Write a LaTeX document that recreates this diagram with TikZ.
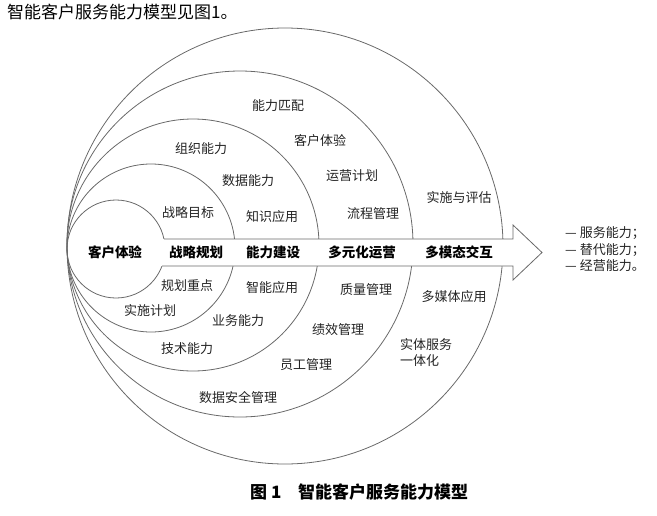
\documentclass[tikz,border=0pt]{standalone}
\usepackage{fontspec}
\setmainfont{Noto Sans CJK SC}
\newfontfamily\cjk{Noto Sans CJK SC}
\definecolor{ln}{RGB}{105,105,105}
\definecolor{txt}{RGB}{35,35,35}
\tikzset{
  ring/.style={draw=ln, line width=0.8pt},
  lbl/.style={font=\cjk\fontsize{13}{16}\selectfont, text=txt, inner sep=0pt},
  core/.style={font=\cjk\bfseries\fontsize{13.5}{16}\selectfont, text=black, inner sep=0pt},
  big/.style={font=\cjk\fontsize{17}{20}\selectfont, text=black, inner sep=0pt},
  figcap/.style={font=\cjk\bfseries\fontsize{17}{20}\selectfont, text=black, inner sep=0pt}
}
\begin{document}
\begin{tikzpicture}[x=1pt,y=-1pt]
\useasboundingbox (0,0) rectangle (657,515);
% header
\node[big,anchor=west] (head) at (7,12.5) {智能客户服务能力模型见图1。};
% rings
\draw[ring] (285,246) circle[radius=218pt];
\draw[ring] (240,244) circle[radius=173pt];
\draw[ring] (193,245) circle[radius=126pt];
\draw[ring] (151,248) circle[radius=84pt];
\draw[ring] (116,249) circle[radius=49pt];
% arrow band
\fill[white] (150,239) -- (513,239) -- (513,225) -- (542,252.5) -- (513,280) -- (513,266) -- (150,266) -- cycle;
\draw[ring, line join=miter] (164,239) -- (513,239) -- (513,225) -- (542,252.5) -- (513,280) -- (513,266) -- (162,266);
% core labels
\node[core] (k1) at (115,252.5) {客户体验};
\node[core] (k2) at (196,252.5) {战略规划};
\node[core] (k3) at (273,252.5) {能力建设};
\node[core] (k4) at (362,252.5) {多元化运营};
\node[core] (k5) at (459,252.5) {多模态交互};
% ring 2
\node[lbl] (a1) at (188,213) {战略目标};
\node[lbl] (a2) at (187,286) {规划重点};
\node[lbl] (a3) at (150,311) {实施计划};
% ring 3
\node[lbl] (b1) at (201,149) {组织能力};
\node[lbl] (b2) at (248,181) {数据能力};
\node[lbl] (b3) at (272,217) {知识应用};
\node[lbl] (b4) at (272,288) {智能应用};
\node[lbl] (b5) at (238,321) {业务能力};
\node[lbl] (b6) at (187,349) {技术能力};
% ring 4
\node[lbl] (c1) at (278,106) {能力匹配};
\node[lbl] (c2) at (320,141) {客户体验};
\node[lbl] (c3) at (352,176) {运营计划};
\node[lbl] (c4) at (373,214) {流程管理};
\node[lbl] (c5) at (366,290) {质量管理};
\node[lbl] (c6) at (338,330) {绩效管理};
\node[lbl] (c7) at (306,365) {员工管理};
\node[lbl] (c8) at (238,398) {数据安全管理};
% ring 5
\node[lbl] (d1) at (459,198) {实施与评估};
\node[lbl] (d2) at (454,297) {多媒体应用};
\node[lbl,anchor=west] (d3) at (400,345) {实体服务};
\node[lbl,anchor=west] (d4) at (400,361) {一体化};
% outcomes
\node[lbl,anchor=west] (o1) at (565,233.5) {—\hspace{3pt}服务能力；};
\node[lbl,anchor=west] (o2) at (565,250) {—\hspace{3pt}替代能力；};
\node[lbl,anchor=west] (o3) at (565,266) {—\hspace{3pt}经营能力。};
% caption
\node[figcap,anchor=west] (f1) at (250,492) {图 1};
\node[figcap,anchor=west] (f2) at (298,492) {智能客户服务能力模型};
\end{tikzpicture}
\end{document}
